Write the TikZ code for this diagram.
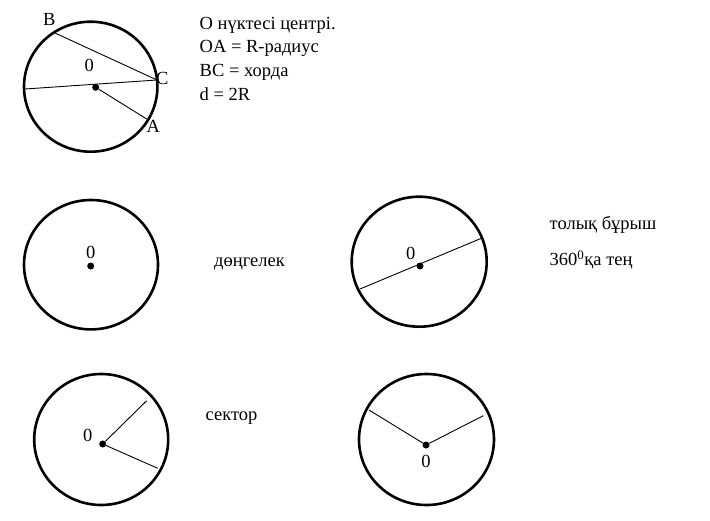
\documentclass[tikz,border=0pt]{standalone}
\usepackage{fontspec}
\setmainfont{Liberation Serif}
\usetikzlibrary{positioning}

\begin{document}
\begin{tikzpicture}[
    x=1pt, y=-1pt,
    rim/.style={line width=2.6pt},
    ray/.style={line width=0.9pt},
    centre/.style={circle, fill, inner sep=0pt, minimum size=7pt},
    lbl/.style={font=\fontsize{18.5}{22}\selectfont, inner sep=0pt, anchor=base west},
    zero/.style={font=\fontsize{18.5}{22}\selectfont, inner sep=0pt}
]
\useasboundingbox (0,0) rectangle (710,520);

% Top: chord, diameter and radius
\draw[rim] (90.7,86.7) ellipse [x radius=66.7pt, y radius=65pt];
\node[centre] (o1) at (95.7,87.3) {};
\coordinate (a) at (146.7,119);
\coordinate (b) at (55,33);
\coordinate (c) at (157,80);
\coordinate (d) at (25,89);
\draw[ray] (b) -- (c);
\draw[ray] (d) -- (c);
\draw[ray] (o1) -- (a);
\node[lbl] (lb) at (43,25) {B};
\node[lbl] (lc) at (156,84) {C};
\node[lbl] (la) at (146.5,132.3) {A};
\node[lbl] (lo1) at (84.5,71.7) {0};

% Notes
\node[lbl] (t1) at (199.5,29) {O нүктесі центрі.};
\node[lbl] (t2) at (199.5,52.7) {OA = R-радиус};
\node[lbl] (t3) at (199.5,76.7) {BC = хорда};
\node[lbl] (t4) at (199.5,100.7) {d = 2R};

% Row 2: disc
\draw[rim] (91,264.7) ellipse [x radius=67pt, y radius=64.7pt];
\node[centre] (o2) at (90.7,266) {};
\node[zero, above=3pt of o2] (lo2) {0};
\node[lbl] (t5) at (214,266.5) {дөңгелек};

% Row 2: full angle
\draw[rim] (419.2,261.7) ellipse [x radius=67.5pt, y radius=65pt];
\node[centre] (o3) at (420,266) {};
\coordinate (e) at (360,289);
\coordinate (f) at (482.7,237.7);
\draw[ray] (e) -- (f);
\node[lbl] (lo3) at (406,259) {0};
\node[lbl] (t6) at (549.5,229.5) {толық бұрыш};
\node[lbl] (t7) at (549.5,265.5) {360\textsuperscript{0}қа тең};

% Row 3: sector
\draw[rim] (101.2,439.5) ellipse [x radius=67pt, y radius=65.5pt];
\node[centre] (o4) at (102.7,444) {};
\coordinate (g) at (146.7,400.7);
\coordinate (h) at (157.7,468.3);
\draw[ray] (o4) -- (g);
\draw[ray] (o4) -- (h);
\node[lbl] (lo4) at (83,441.7) {0};
\node[lbl] (t8) at (205.5,420) {сектор};

% Row 3: angle
\draw[rim] (426.5,439.5) ellipse [x radius=67.5pt, y radius=65.5pt];
\node[centre] (o5) at (426,445) {};
\coordinate (k) at (369,410);
\coordinate (m) at (483.3,415.7);
\draw[ray] (o5) -- (k);
\draw[ray] (o5) -- (m);
\node[zero, below=6pt of o5] (lo5) {0};

\end{tikzpicture}
\end{document}
